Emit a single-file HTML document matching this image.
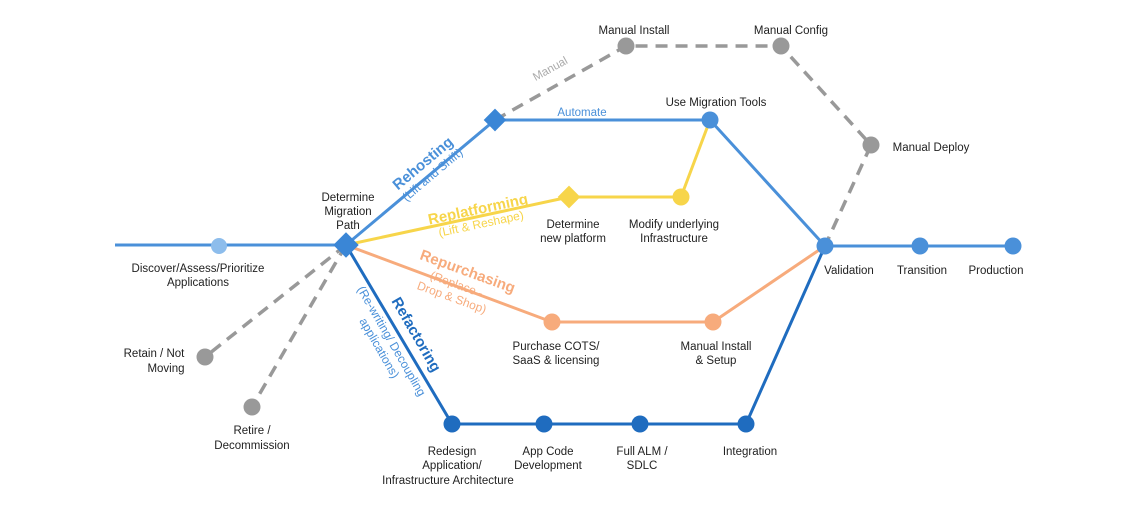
<!DOCTYPE html>
<html><head><meta charset="utf-8"><style>
html,body{margin:0;padding:0;background:#fff;}
svg{display:block;font-family:"Liberation Sans",Arial,sans-serif;}
.l{font-size:11.5px;fill:#222;text-anchor:middle;}
</style></head><body>
<svg width="1146" height="516" viewBox="0 0 1146 516">
<g stroke="#999" stroke-width="3.5" stroke-dasharray="12,8" fill="none">
<polyline points="495,120 626,46 781,46 871,145 825,246"/>
<line x1="346" y1="245" x2="205" y2="357"/>
<line x1="346" y1="245" x2="252" y2="407"/>
</g>
<g fill="none" stroke-width="3" stroke-linejoin="round">
<line x1="115" y1="245" x2="346" y2="245" stroke="#4a90d9"/>
<polyline points="346,245 495,120 710,120 825,246" stroke="#4a90d9"/>
<polyline points="346,245 569,197 681,197 710,120" stroke="#f7d54a"/>
<polyline points="346,245 552,322 713,322 825,246" stroke="#f7ab7c"/>
<polyline points="346,245 452,424 746,424 825,246" stroke="#1f6cbf"/>
<line x1="825" y1="246" x2="1013" y2="246" stroke="#4a90d9"/>
</g>
<circle cx="219" cy="246" r="8" fill="#8dbdec"/>
<rect x="337" y="236" width="18" height="18" fill="#3a86d6" transform="rotate(45 346 245)"/>
<rect x="487" y="112" width="16" height="16" fill="#3a86d6" transform="rotate(45 495 120)"/>
<rect x="561" y="189" width="16" height="16" fill="#f7d54a" transform="rotate(45 569 197)"/>
<circle cx="710" cy="120" r="8.5" fill="#4a90d9"/>
<circle cx="681" cy="197" r="8.5" fill="#f7d54a"/>
<circle cx="552" cy="322" r="8.5" fill="#f7ab7c"/>
<circle cx="713" cy="322" r="8.5" fill="#f7ab7c"/>
<g fill="#1f6cbf"><circle cx="452" cy="424" r="8.5"/><circle cx="544" cy="424" r="8.5"/><circle cx="640" cy="424" r="8.5"/><circle cx="746" cy="424" r="8.5"/></g>
<g fill="#4a90d9"><circle cx="825" cy="246" r="8.5"/><circle cx="920" cy="246" r="8.5"/><circle cx="1013" cy="246" r="8.5"/></g>
<g fill="#999"><circle cx="626" cy="46" r="8.5"/><circle cx="781" cy="46" r="8.5"/><circle cx="871" cy="145" r="8.5"/><circle cx="205" cy="357" r="8.5"/><circle cx="252" cy="407" r="8.5"/></g>
<text class="l" x="348" y="201">Determine</text>
<text class="l" x="348" y="215">Migration</text>
<text class="l" x="348" y="229">Path</text>
<text class="l" x="198" y="272">Discover/Assess/Prioritize</text>
<text class="l" x="198" y="286">Applications</text>
<text class="l" x="154" y="357">Retain / Not</text>
<text class="l" x="166" y="372">Moving</text>
<text class="l" x="252" y="434">Retire /</text>
<text class="l" x="252" y="449">Decommission</text>
<text class="l" x="634" y="34">Manual Install</text>
<text class="l" x="791" y="34">Manual Config</text>
<text class="l" x="931" y="151">Manual Deploy</text>
<text class="l" x="716" y="106">Use Migration Tools</text>
<text class="l" x="582" y="116" style="fill:#4a90d9">Automate</text>
<text class="l" x="552" y="72" style="fill:#aaa" transform="rotate(-29 552 72)">Manual</text>
<text class="l" x="573" y="228">Determine</text>
<text class="l" x="573" y="242">new platform</text>
<text class="l" x="674" y="228">Modify underlying</text>
<text class="l" x="674" y="242">Infrastructure</text>
<text class="l" x="556" y="350">Purchase COTS/</text>
<text class="l" x="556" y="364">SaaS &amp; licensing</text>
<text class="l" x="716" y="350">Manual Install</text>
<text class="l" x="716" y="364">&amp; Setup</text>
<text class="l" x="452" y="455">Redesign</text>
<text class="l" x="452" y="469">Application/</text>
<text class="l" x="448" y="484">Infrastructure Architecture</text>
<text class="l" x="548" y="455">App Code</text>
<text class="l" x="548" y="469">Development</text>
<text class="l" x="642" y="455">Full ALM /</text>
<text class="l" x="642" y="469">SDLC</text>
<text class="l" x="750" y="455">Integration</text>
<text class="l" x="849" y="274">Validation</text>
<text class="l" x="922" y="274">Transition</text>
<text class="l" x="996" y="274">Production</text>
<g transform="translate(426,167) rotate(-40)"><text x="0" y="0" text-anchor="middle" style="font-size:15px;font-weight:bold;fill:#4a90d9">Rehosting</text><text x="0" y="14" text-anchor="middle" style="font-size:12px;fill:#4a90d9">(Lift and Shift)</text></g>
<g transform="translate(479,214) rotate(-12)"><text x="0" y="0" text-anchor="middle" style="font-size:15px;font-weight:bold;fill:#f7d54a">Replatforming</text><text x="0" y="14" text-anchor="middle" style="font-size:12px;fill:#f7d54a">(Lift &amp; Reshape)</text></g>
<g transform="translate(466,276) rotate(20)"><text x="0" y="0" text-anchor="middle" style="font-size:15px;font-weight:bold;fill:#f7ab7c">Repurchasing</text><text x="-6" y="15" text-anchor="middle" style="font-size:12px;fill:#f7ab7c">(Replace -</text><text x="-6" y="29" text-anchor="middle" style="font-size:12px;fill:#f7ab7c">Drop &amp; Shop)</text></g>
<g transform="translate(412,337) rotate(60)"><text x="0" y="0" text-anchor="middle" style="font-size:15px;font-weight:bold;fill:#1f6cbf">Refactoring</text></g>
<g transform="translate(388,343) rotate(60)"><text x="0" y="0" text-anchor="middle" style="font-size:12px;fill:#4a90d9">(Re-writing/ Decoupling</text><text x="0" y="14" text-anchor="middle" style="font-size:12px;fill:#4a90d9">applications)</text></g>
</svg>
</body></html>
